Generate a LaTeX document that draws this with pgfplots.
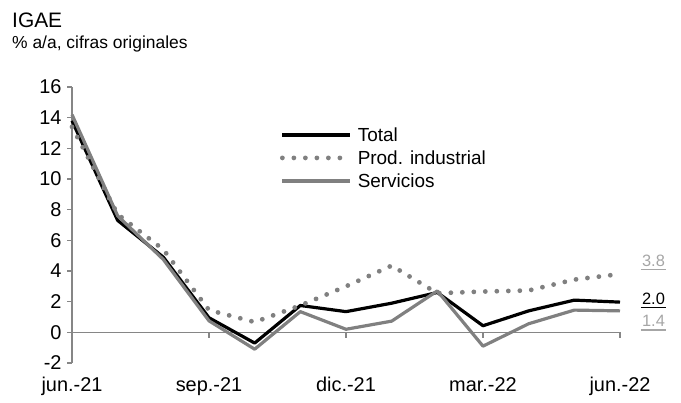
\documentclass[border=0pt]{standalone}
\usepackage{pgfplots}
\pgfplotsset{compat=1.18}
\usepackage{fontspec}
\setmainfont{Liberation Sans}
\definecolor{axgray}{RGB}{134,134,134}
\definecolor{lgray}{RGB}{128,128,128}
\definecolor{lblgray}{RGB}{166,166,166}
\begin{document}
\begin{tikzpicture}
\begin{axis}[
  name=ax,
  scale only axis,
  width=548bp, height=276bp,
  xmin=0, xmax=12, ymin=-2, ymax=16,
  enlargelimits=false,
  clip=false,
  axis x line=none,
  axis y line*=left,
  y axis line style={draw=axgray, line width=1.4bp, -},
  ytick={-2,0,...,16},
  ytick style={draw=axgray, line width=1.4bp},
  tick align=outside,
  major tick length=5bp,
  /pgf/number format/assume math mode=true,
  yticklabel style={font=\fontsize{20}{22}\selectfont, color=black, xshift=-2bp},
  legend style={draw=none, fill=none, at={(axis cs:4.55,13.45)}, anchor=north west,
    font=\fontsize{19}{21}\selectfont, inner sep=0pt, row sep=5.8bp,
    cells={anchor=west}, nodes={inner sep=1bp}},
  legend image code/.code={\draw[#1] (0bp,0bp) -- (68bp,0bp);},
  /tikz/every odd column/.append style={column sep=4bp},
]
\draw[axgray, line width=1.4bp] (axis cs:0,0) -- (axis cs:12,0);
\pgfplotsinvokeforeach{3,6,9,12}{\draw[axgray, line width=1.4bp] (axis cs:#1,0) -- ([yshift=-6bp]axis cs:#1,0);}
\node[font=\fontsize{20}{22}\selectfont, anchor=base] at ([yshift=-28bp]axis cs:0,-2) {jun.-21};
\node[font=\fontsize{20}{22}\selectfont, anchor=base] at ([yshift=-28bp]axis cs:3,-2) {sep.-21};
\node[font=\fontsize{20}{22}\selectfont, anchor=base] at ([yshift=-28bp]axis cs:6,-2) {dic.-21};
\node[font=\fontsize{20}{22}\selectfont, anchor=base] at ([yshift=-28bp]axis cs:9,-2) {mar.-22};
\node[font=\fontsize{20}{22}\selectfont, anchor=base] at ([yshift=-28bp]axis cs:12,-2) {jun.-22};

\addplot[black, line width=3.2bp, line join=round] coordinates {
 (0,13.8) (1,7.3) (2,4.9) (3,0.95) (4,-0.7) (5,1.75) (6,1.35) (7,1.9) (8,2.6) (9,0.43) (10,1.4) (11,2.1) (12,1.97)};
\addlegendentry{Total}
\addplot[lgray, line width=4.8bp, line cap=round, dash pattern=on 0bp off 11.5bp] coordinates {
 (0,13.4) (1,7.7) (2,5.4) (3,1.45) (4,0.67) (5,1.75) (6,3.0) (7,4.35) (8,2.55) (9,2.66) (10,2.73) (11,3.44) (12,3.8)};
\addlegendentry{Prod. industrial}
\addplot[lgray, line width=3.2bp, line join=round] coordinates {
 (0,14.2) (1,7.6) (2,4.75) (3,0.75) (4,-1.1) (5,1.35) (6,0.2) (7,0.73) (8,2.7) (9,-0.9) (10,0.56) (11,1.45) (12,1.4)};
\addlegendentry{Servicios}

\node[font=\fontsize{16.5}{18}\selectfont, color=lblgray, anchor=base, inner sep=1pt] (la) at ([xshift=33.5bp]axis cs:12,4.3) {3.8};
\draw[lblgray, line width=1.3bp] ([yshift=-3bp]la.base west) -- ([yshift=-3bp]la.base east);
\node[font=\fontsize{16.5}{18}\selectfont, color=black, anchor=base, inner sep=1pt] (lb) at ([xshift=33.5bp]axis cs:12,1.8) {2.0};
\draw[black, line width=1.3bp] ([yshift=-3bp]lb.base west) -- ([yshift=-3bp]lb.base east);
\node[font=\fontsize{16.5}{18}\selectfont, color=lblgray, anchor=base, inner sep=1pt] (lc) at ([xshift=33.5bp]axis cs:12,0.35) {1.4};
\draw[lblgray, line width=1.3bp] ([yshift=-3bp]lc.base west) -- ([yshift=-3bp]lc.base east);
\end{axis}
\node[anchor=base west, font=\fontsize{21}{23}\selectfont, inner sep=0pt] at ([shift={(-60bp,59bp)}]ax.north west) {IGAE};
\node[anchor=base west, font=\fontsize{17.5}{19}\selectfont, inner sep=0pt] at ([shift={(-60bp,38bp)}]ax.north west) {\% a/a, cifras originales};
\pgfresetboundingbox
\path[use as bounding box] ([shift={(-72bp,-40bp)}]ax.south west) rectangle ([shift={(61bp,87bp)}]ax.north east);
\end{tikzpicture}
\end{document}
